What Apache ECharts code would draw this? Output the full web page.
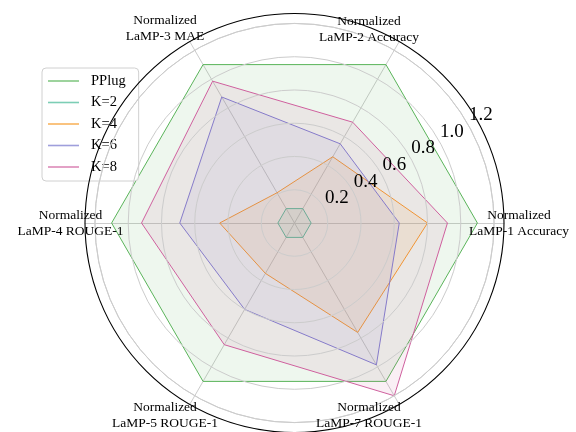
<!DOCTYPE html>
<html><head><meta charset="utf-8">
<script src="https://cdn.jsdelivr.net/npm/echarts@6/dist/echarts.min.js"></script>
<style>html,body{margin:0;padding:0;background:#fff}#c{width:576px;height:432px}</style>
</head><body><div id="c"></div>
<script>
// ---- data ----
const axisNames = ['Normalized\nLaMP-1 Accuracy', 'Normalized\nLaMP-2 Accuracy', 'Normalized\nLaMP-3 MAE',
                   'Normalized\nLaMP-4 ROUGE-1', 'Normalized\nLaMP-5 ROUGE-1', 'Normalized\nLaMP-7 ROUGE-1'];
const seriesNames = ['PPlug', 'K=2', 'K=4', 'K=6', 'K=8'];
const pplug = [1.10, 1.10, 1.10, 1.10, 1.10, 1.10];
const k2 = [0.10, 0.10, 0.10, 0.10, 0.10, 0.10];
const k4 = [0.80, 0.46, 0.21, 0.45, 0.35, 0.76];
const k6 = [0.63, 0.55, 0.875, 0.69, 0.60, 0.985];
const k8 = [0.92, 0.70, 0.985, 0.92, 0.845, 1.20];
const radialTicks = [0.2, 0.4, 0.6, 0.8, 1.0, 1.2];
const rMax = 1.26;

// ---- layout / style ----
const colors = ['#5bb55b', '#50be9c', '#f59b2a', '#7f7fd0', '#d0619f'];
const center = [294.5, 223];
const radius = 209.5;
const ringMax = 1.2005; // just past the last ring, so 1.2 is an ordinary tick
const namePos = [[519, 223], [369, 29], [165, 28], [70.5, 223], [165, 415], [369, 415]];
const FONT = '"Liberation Serif", "DejaVu Serif", serif';

const allValues = [pplug, k2, k4, k6, k8];

const chart = echarts.init(document.getElementById('c'), null, {renderer: 'canvas'});
chart.setOption({
  animation: false,
  backgroundColor: '#fff',
  textStyle: {fontFamily: FONT, color: '#000'},
  polar: [
    {center: center, radius: radius * ringMax / rMax},
    {center: center, radius: radius}
  ],
  angleAxis: [
    {
      polarIndex: 0, type: 'value', min: 0, max: 360, startAngle: 30, clockwise: false,
      axisLine: {show: false}, axisTick: {show: false}, axisLabel: {show: false}, splitLine: {show: false}
    },
    {
      polarIndex: 1, type: 'value', min: 0, max: 360, startAngle: 30, clockwise: false, z: 12,
      axisLine: {show: true, lineStyle: {color: '#000', width: 1.1}},
      axisTick: {show: false}, axisLabel: {show: false}, splitLine: {show: false}
    }
  ],
  radiusAxis: [
    {
      polarIndex: 0, type: 'value', min: 0, max: ringMax, interval: 0.2, z: 10,
      axisLine: {show: false}, axisTick: {show: false},
      splitLine: {show: true, lineStyle: {color: '#cccccc', width: 1}},
      axisLabel: {
        show: true, margin: 0, align: 'center', verticalAlign: 'middle',
        padding: [0, 0, 0, 27], lineHeight: 16,
        fontFamily: FONT, fontSize: 19, color: '#000',
        formatter: function (v) {
          for (const t of radialTicks) if (Math.abs(v - t) < 1e-6) return t.toFixed(1) + '\n\u00a0';
          return '';
        }
      }
    },
    {
      polarIndex: 1, type: 'value', min: 0, max: rMax,
      axisLine: {show: false}, axisTick: {show: false}, axisLabel: {show: false}, splitLine: {show: false}
    }
  ],
  radar: {
    center: center, radius: radius, startAngle: 0, shape: 'circle',
    indicator: axisNames.map(n => ({name: n, min: 0, max: rMax})),
    axisName: {show: false},
    splitLine: {show: false}, splitArea: {show: false},
    axisLine: {show: true, lineStyle: {color: '#cccccc', width: 1}},
    axisTick: {show: false}, axisLabel: {show: false}
  },
  legend: {
    orient: 'vertical', left: 42, top: 68,
    data: seriesNames,
    icon: 'rect', itemWidth: 31, itemHeight: 1.6, itemGap: 5.5,
    padding: [5, 13, 6, 6],
    borderColor: '#d0d0d0', borderWidth: 1, borderRadius: 4,
    backgroundColor: 'rgba(255,255,255,0.85)',
    itemStyle: {opacity: 0.75},
    textStyle: {fontFamily: FONT, fontSize: 14.5, color: '#000', lineHeight: 16, padding: [0, 0, 0, 7]}
  },
  graphic: axisNames.map((n, i) => ({
    type: 'text', x: namePos[i][0], y: namePos[i][1], z: 100,
    style: {text: n, textAlign: 'center', textVerticalAlign: 'middle',
            font: '13.5px ' + FONT, fill: '#000', lineHeight: 16}
  })),
  series: seriesNames.map((name, i) => ({
    type: 'radar', name: name, symbol: 'none',
    color: colors[i],
    lineStyle: {color: colors[i], width: 1},
    areaStyle: {color: colors[i], opacity: 0.1},
    data: [{name: name, value: allValues[i]}]
  }))
});
</script></body></html>
